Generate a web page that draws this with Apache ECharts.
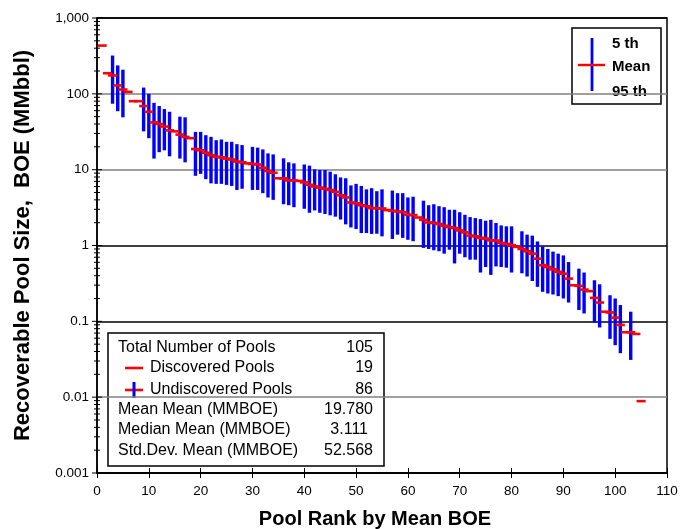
<!DOCTYPE html>
<html><head><meta charset="utf-8">
<script src="https://cdn.jsdelivr.net/npm/echarts@6/dist/echarts.min.js"></script>
<style>html,body{margin:0;padding:0;background:#fff}#c{width:680px;height:529px}</style>
</head><body><div id="c"></div>
<script>
// ---- Data ----
const undiscRank = [3,4,5,9,10,11,12,13,14,16,17,19,20,21,22,23,24,25,26,27,28,30,31,32,33,34,36,37,38,40,41,42,43,44,45,46,47,48,49,50,51,52,53,54,55,57,58,59,60,61,63,64,65,66,67,68,69,70,71,72,73,74,75,76,77,78,79,80,82,83,84,85,86,87,88,89,90,91,93,94,96,97,99,100,101,103];
const undiscP95 = [320,237,208,121,100,76,69,63,58,50,49,31.5,31.5,28.5,27.1,24.5,25,23.3,23.3,21.7,21.1,20.0,19.5,18.5,16.4,15.9,14.1,12.5,12.1,11.7,11.3,10.1,9.9,9.9,9.4,8.7,7.9,7.7,6.2,6.5,6.1,5.5,5.7,5.2,5.5,5.3,4.9,4.9,4.3,4.4,3.9,3.4,3.5,3.3,3.2,2.96,2.96,2.75,2.54,2.37,2.30,2.23,2.12,2.18,1.98,1.84,1.79,1.79,1.54,1.39,1.35,1.13,0.97,0.90,0.83,0.78,0.74,0.605,0.495,0.44,0.348,0.308,0.221,0.20,0.164,0.134];
const undiscP5 = [74,59,49,32,26,14,17,18,15,14,12.5,8.3,8.8,7.5,6.6,6.5,6.5,6.3,6.1,5.4,5.6,5.4,5.4,4.9,4.3,4.0,3.5,3.4,3.2,3.05,2.7,2.9,2.7,2.6,2.5,2.4,2.2,1.9,1.73,1.65,1.46,1.46,1.42,1.43,1.32,1.22,1.39,1.26,1.19,1.14,0.93,0.90,0.865,0.84,0.78,0.88,0.58,0.78,0.70,0.65,0.65,0.44,0.52,0.41,0.53,0.52,0.51,0.44,0.43,0.39,0.34,0.285,0.245,0.233,0.226,0.215,0.20,0.177,0.141,0.127,0.097,0.083,0.0587,0.0485,0.038,0.031];
const undiscMean = [175,129,114,69,58,42,40,37,33,29,27,18.7,18,16.7,15.5,14.8,14.5,14.0,13.6,12.8,12.5,11.9,11.7,10.6,9.6,9.1,7.7,7.2,7.2,6.8,6.3,6.0,5.8,5.6,5.4,5.1,4.6,4.3,3.7,3.6,3.4,3.3,3.11,3.1,3.08,2.87,2.81,2.75,2.54,2.52,2.18,2.01,1.98,1.92,1.82,1.75,1.70,1.58,1.49,1.35,1.32,1.26,1.23,1.17,1.16,1.08,1.05,1.01,0.90,0.84,0.78,0.67,0.55,0.52,0.485,0.45,0.425,0.366,0.294,0.262,0.204,0.177,0.131,0.112,0.0896,0.0718];
const discRank = [1,2,6,7,8,15,18,29,35,39,56,62,81,92,95,98,102,104,105];
const discMean = [433,187,106,80,80,32,26,12.1,7.7,7.1,2.93,2.34,0.96,0.299,0.25,0.134,0.0718,0.0682,0.00887];

const xTickValues = [0,10,20,30,40,50,60,70,80,90,100,110];
const yTickValues = [0.001,0.01,0.1,1,10,100,1000];
const yTickLabels = ['0.001','0.01','0.1','1','10','100','1,000'];
const legendLabels = ['5 th','Mean','95 th'];
const statsLabels = ['Total Number of Pools','Discovered Pools','Undiscovered Pools','Mean Mean (MMBOE)','Median Mean (MMBOE)','Std.Dev. Mean (MMBOE)'];
const statsValues = ['105','19','86','19.780','3.111','52.568'];

// ---- Chart ----
const FONT = '"Liberation Sans", Arial, Helvetica, sans-serif';
const chart = echarts.init(document.getElementById('c'), null, {renderer:'canvas'});

const minorTicks = [];
for (let i = 0; i < yTickValues.length - 1; i++) {
  for (let k = 2; k <= 9; k++) minorTicks.push([0, yTickValues[i] * k, 3, 3]);
}
const majorTicks = yTickValues.map(v => [0, v, 5, 5]);

function hLine(halfLen, color, width) {
  return function (params, api) {
    const p = api.coord([api.value(0), api.value(1)]);
    return {type:'line', shape:{x1:p[0]-halfLen, y1:p[1], x2:p[0]+halfLen, y2:p[1]},
            style:{stroke:color, lineWidth:width}};
  };
}

const option = {
  animation: false,
  backgroundColor: '#fff',
  grid: {left:97, right:13, top:18, bottom:56, show:true, borderColor:'#000', borderWidth:1.5,
         backgroundColor:'transparent', containLabel:false, outerBoundsMode:'none'},
  xAxis: [{
    type:'value', min:0, max:110, interval:10,
    name:'Pool Rank by Mean BOE', nameLocation:'middle', nameGap:36,
    nameTextStyle:{fontFamily:FONT, fontSize:20, fontWeight:'bold', color:'#000', padding:[0,14,0,0]},
    axisLine:{show:true, lineStyle:{color:'#000', width:1.5}},
    axisTick:{show:true, length:5, lineStyle:{color:'#000', width:1}},
    axisLabel:{fontFamily:FONT, fontSize:13.5, color:'#000', margin:11,
      formatter: v => String(xTickValues.find(t => t === v) ?? v)},
    splitLine:{show:false}
  },{
    type:'value', min:0, max:110, interval:10, position:'bottom',
    axisLine:{show:false}, axisLabel:{show:false}, splitLine:{show:false},
    axisTick:{show:true, inside:true, length:5, lineStyle:{color:'#000', width:1}}
  }],
  yAxis: {
    type:'log', logBase:10, min:0.001, max:1000, interval:1,
    name:'Recoverable Pool Size,  BOE (MMbbl)', nameLocation:'middle', nameGap:63, nameRotate:90,
    nameTextStyle:{fontFamily:FONT, fontSize:22, fontWeight:'bold', color:'#000'},
    axisLine:{show:true, lineStyle:{color:'#000', width:1.5}},
    axisTick:{show:false},
    axisLabel:{fontFamily:FONT, fontSize:13.5, color:'#000', margin:8,
      formatter: function (v) {
        let best = 0, bd = Infinity;
        yTickValues.forEach((t, i) => { const d = Math.abs(Math.log10(t) - Math.log10(v)); if (d < bd) { bd = d; best = i; } });
        return yTickLabels[best];
      }},
    splitLine:{show:true, lineStyle:{color:['#000','#808080','#000','#000','#808080','#808080','#000'], width:1.5}}
  },
  series: [
    { // undiscovered 5th-95th bars
      type:'custom', silent:true, z:3,
      data: undiscRank.map((r, i) => [r, undiscP5[i], undiscP95[i]]),
      encode:{x:0, y:[1,2]},
      renderItem: function (params, api) {
        const lo = api.coord([api.value(0), api.value(1)]);
        const hi = api.coord([api.value(0), api.value(2)]);
        return {type:'line', shape:{x1:lo[0], y1:lo[1], x2:hi[0], y2:hi[1]},
                style:{stroke:'#0000ff', lineWidth:3.4}};
      }
    },
    { // undiscovered means
      type:'custom', silent:true, z:4,
      data: undiscRank.map((r, i) => [r, undiscMean[i]]),
      encode:{x:0, y:1},
      renderItem: hLine(4.5, '#ff0000', 2.6)
    },
    { // discovered pools
      type:'custom', silent:true, z:4,
      data: discRank.map((r, i) => [r, discMean[i]]),
      encode:{x:0, y:1},
      renderItem: hLine(4.5, '#ff0000', 2.6)
    },
    { // y ticks (major and log minor), crossing the axis
      type:'custom', silent:true, z:5, clip:false,
      data: majorTicks.concat(minorTicks),
      encode:{x:0, y:1},
      renderItem: function (params, api) {
        const p = api.coord([api.value(0), api.value(1)]);
        return {type:'line', shape:{x1:p[0]-api.value(2), y1:p[1], x2:p[0]+api.value(3), y2:p[1]},
                style:{stroke:'#000', lineWidth:1}};
      }
    }
  ],
  graphic: [
    { // legend box
      type:'group', z:100,
      children: [
        {type:'rect', shape:{x:572, y:28, width:89, height:76}, style:{fill:'#fff', stroke:'#000', lineWidth:1.5}},
        {type:'line', shape:{x1:592, y1:38, x2:592, y2:91}, style:{stroke:'#0000ff', lineWidth:2.8}},
        {type:'line', shape:{x1:578, y1:65, x2:605, y2:65}, style:{stroke:'#ff0000', lineWidth:2.4}},
        {type:'text', style:{x:612, y:44, text:legendLabels[0], font:'bold 15px ' + FONT, fill:'#000', textVerticalAlign:'middle', verticalAlign:'middle'}},
        {type:'text', style:{x:612, y:67, text:legendLabels[1], font:'bold 15px ' + FONT, fill:'#000', textVerticalAlign:'middle', verticalAlign:'middle'}},
        {type:'text', style:{x:612, y:92, text:legendLabels[2], font:'bold 15px ' + FONT, fill:'#000', textVerticalAlign:'middle', verticalAlign:'middle'}}
      ]
    },
    { // stats box
      type:'group', z:100,
      children: [
        {type:'rect', shape:{x:108, y:333, width:276, height:133}, style:{fill:'#fff', stroke:'#000', lineWidth:1.5}},
        {type:'line', shape:{x1:125, y1:368, x2:143, y2:368}, style:{stroke:'#ff0000', lineWidth:2.6}},
        {type:'line', shape:{x1:125, y1:390, x2:143, y2:390}, style:{stroke:'#ff0000', lineWidth:2.6}},
        {type:'line', shape:{x1:134, y1:382, x2:134, y2:398}, style:{stroke:'#0000ff', lineWidth:3}}
      ].concat(statsLabels.map((t, i) => ({
        type:'text', style:{x:(i === 1 || i === 2) ? 150 : 118, y:[348,368,390,410,430,451][i], text:t,
          font:'16px ' + FONT, fill:'#000', verticalAlign:'middle', textVerticalAlign:'middle'}
      }))).concat(statsValues.map((t, i) => ({
        type:'text', style:{x:i === 4 ? 368 : 373, y:[348,368,390,410,430,451][i], text:t,
          font:'16px ' + FONT, fill:'#000', align:'right', textAlign:'right', verticalAlign:'middle', textVerticalAlign:'middle'}
      })))
    }
  ]
};
chart.setOption(option);
</script></body></html>
